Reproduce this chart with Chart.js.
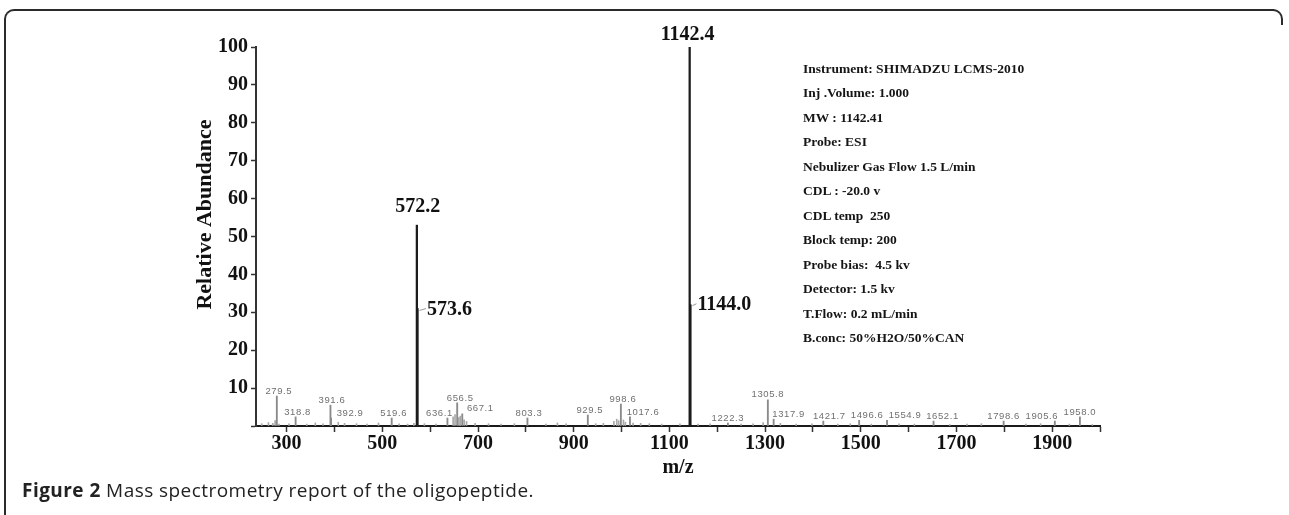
<!DOCTYPE html>
<html><head><meta charset="utf-8">
<script src="https://cdn.jsdelivr.net/npm/chart.js@4.4.1/dist/chart.umd.min.js"></script>
<style>
html,body{margin:0;padding:0;background:#fff;}
#wrap{position:relative;width:1289px;height:515px;overflow:hidden;background:#fff;}
#c{position:absolute;left:0;top:0;}
.frame{position:absolute;left:4px;top:9px;width:1268px;height:520px;border-top:2px solid #2b2b2b;border-left:2px solid #2b2b2b;border-top-left-radius:10px;}
.corner{position:absolute;left:1270px;top:9px;width:11px;height:14px;border-top:2px solid #2b2b2b;border-right:2px solid #2b2b2b;border-top-right-radius:10px;}
#info{position:absolute;left:803px;top:56.5px;font-family:"Liberation Serif";font-weight:bold;font-size:13.5px;color:#151515;white-space:pre;line-height:24.5px;}
#caption{position:absolute;left:22px;top:477px;font-family:"Open Sans";font-size:19px;letter-spacing:0.45px;color:#222;white-space:pre;}
#caption b{font-weight:bold;}
</style></head>
<body>
<div id="wrap">
<canvas id="c" width="1289" height="515"></canvas>
<div class="frame"></div><div class="corner"></div>
<div id="info"></div>
<div id="caption"><b>Figure 2</b> Mass spectrometry report of the oligopeptide.</div>
</div>
<script>
// ---- data ----
const majorMz     = [572.2, 573.6, 1142.4, 1144.0];
const majorHeight = [53, 31, 100, 32];
const majorLabel  = ['572.2', '573.6', '1142.4', '1144.0'];

const minorMz     = [279.5, 318.8, 391.6, 392.9, 519.6, 636.1, 656.5, 667.1, 803.3, 929.5, 998.6, 1017.6,
                     1222.3, 1305.8, 1317.9, 1421.7, 1496.6, 1554.9, 1652.1, 1798.6, 1905.6, 1958.0];
const minorHeight = [7.9, 2.4, 5.5, 2.1, 2.1, 2.1, 6.1, 3.2, 2.1, 2.9, 5.8, 2.4,
                     0.8, 6.9, 1.8, 1.3, 1.5, 1.5, 1.3, 1.3, 1.3, 2.4];
const minorLabel  = ['279.5','318.8','391.6','392.9','519.6','636.1','656.5','667.1','803.3','929.5','998.6','1017.6',
                     '1222.3','1305.8','1317.9','1421.7','1496.6','1554.9','1652.1','1798.6','1905.6','1958.0'];

const noiseMz     = [248, 262, 271, 276, 284, 305, 342, 360, 376, 408, 421, 446, 468, 492, 535, 553, 566,
                     588, 612, 648, 652, 660, 663, 671, 676, 694, 722, 748, 776, 842, 866, 884, 946, 962,
                     984, 990, 994, 1004, 1008, 1024, 1040, 1058, 1084, 1122, 1160, 1185, 1250, 1275, 1296,
                     1332, 1365, 1398, 1452, 1478, 1522, 1580, 1612, 1686, 1722, 1752, 1845, 1876, 1936, 1984];
const noiseHeight = [0.6, 0.9, 0.7, 1.4, 0.5, 0.6, 0.5, 0.8, 0.6, 1.0, 0.7, 0.6, 0.5, 0.8, 0.6, 0.5, 0.7,
                     0.6, 0.5, 2.4, 3.0, 2.2, 2.6, 1.6, 1.2, 0.7, 0.6, 0.5, 0.6, 0.5, 0.8, 0.6, 0.6, 0.7,
                     1.2, 1.8, 1.4, 1.6, 1.0, 0.8, 0.7, 0.6, 0.5, 0.6, 0.5, 0.6, 0.5, 0.6, 0.9,
                     0.7, 0.5, 0.6, 0.5, 0.6, 0.5, 0.6, 0.5, 0.4, 0.5, 0.6, 0.5, 0.6, 0.5, 0.4];

const xTickLabels = [300, 500, 700, 900, 1100, 1300, 1500, 1700, 1900];
const yTickLabels = [10, 20, 30, 40, 50, 60, 70, 80, 90, 100];
const yTitle = 'Relative Abundance';
const xTitle = 'm/z';

const infoLines = ['Instrument: SHIMADZU LCMS-2010', 'Inj .Volume: 1.000', 'MW : 1142.41', 'Probe: ESI',
  'Nebulizer Gas Flow 1.5 L/min', 'CDL : -20.0 v', 'CDL temp  250', 'Block temp: 200',
  'Probe bias:  4.5 kv', 'Detector: 1.5 kv', 'T.Flow: 0.2 mL/min', 'B.conc: 50%H2O/50%CAN'];

document.getElementById('info').innerHTML = infoLines.map(t => '<div>' + t + '</div>').join('');

// ---- label layout (pixels) ----
const majorLayout = [
  {dx: 1, dy: -18, align: 'center'},
  {dx: 9.5, dy: 1, align: 'left', dash: true},
  {dx: -2, dy: -12, align: 'center'},
  {dx: 7, dy: 0, align: 'left', dash: true}
];
const minorDx = [2, 2, 1.5, 19, 2, -8, 3, 18, 1.5, 2, 2, 13, 0, 0, 15, 6, 8, 18, 9, 0, -13, 0];

const toXY = (xs, ys) => xs.map((m, i) => ({x: m, y: ys[i]}));

const labelPlugin = {
  id: 'peakLabels',
  afterDatasetsDraw(chart) {
    const ctx = chart.ctx;
    const xs = chart.scales.x, ys = chart.scales.y;
    ctx.save();
    // y-axis title (placed like the reference, slightly above the axis centre)
    ctx.fillStyle = '#111';
    ctx.font = 'bold 22px "Liberation Serif"';
    ctx.textAlign = 'center';
    ctx.textBaseline = 'middle';
    ctx.save();
    ctx.translate(205, (ys.top + ys.bottom) / 2 - 22);
    ctx.rotate(-Math.PI / 2);
    ctx.fillText(yTitle, 0, 0);
    ctx.restore();
    // major labels
    ctx.font = 'bold 20px "Liberation Serif"';
    majorMz.forEach((m, i) => {
      const L = majorLayout[i];
      const px = xs.getPixelForValue(m), py = ys.getPixelForValue(majorHeight[i]);
      ctx.textAlign = L.align;
      ctx.fillText(majorLabel[i], px + L.dx, py + L.dy);
      if (L.dash) {
        ctx.strokeStyle = '#999'; ctx.lineWidth = 1;
        ctx.beginPath(); ctx.moveTo(px + 2, py + L.dy + 1); ctx.lineTo(px + L.dx - 1, py + L.dy - 1); ctx.stroke();
      }
    });
    // minor labels
    ctx.fillStyle = '#707070';
    ctx.font = '9.5px "Liberation Sans"';
    ctx.textAlign = 'center';
    try { ctx.letterSpacing = '0.6px'; } catch (e) {}
    minorMz.forEach((m, i) => {
      const px = xs.getPixelForValue(m), py = ys.getPixelForValue(minorHeight[i]);
      ctx.fillText(minorLabel[i], px + minorDx[i], py - 5);
    });
    ctx.restore();
  }
};

const serifBold = (size) => ({family: 'Liberation Serif', size: size, weight: 'bold'});

new Chart(document.getElementById('c'), {
  type: 'bar',
  data: {
    datasets: [
      {data: toXY(noiseMz, noiseHeight), backgroundColor: '#a8a8a8', barThickness: 1, order: 3},
      {data: toXY(minorMz, minorHeight), backgroundColor: '#8a8a8a', barThickness: 1.2, order: 2},
      {data: toXY(majorMz, majorHeight), backgroundColor: '#1c1c1c', barThickness: 1.6, order: 1}
    ]
  },
  options: {
    responsive: false,
    animation: false,
    events: [],
    datasets: {bar: {grouped: false, borderWidth: 0}},
    layout: {padding: {left: 193, right: 189, top: 47, bottom: 35}},
    plugins: {legend: {display: false}, tooltip: {enabled: false}},
    scales: {
      x: {
        type: 'linear', min: 236, max: 2000, offset: false,
        ticks: {
          autoSkip: false, maxRotation: 0, padding: 0,
          color: '#111', font: serifBold(20),
          callback: (v) => xTickLabels.includes(v) ? String(v) : ''
        },
        afterBuildTicks: (s) => {
          const t = [];
          for (let v = Math.ceil(s.min / 100) * 100; v <= s.max; v += 100) t.push({value: v});
          s.ticks = t;
        },
        grid: {drawOnChartArea: false, drawTicks: true, offset: false, tickLength: 6, tickColor: '#333', tickWidth: 1.5},
        border: {display: true, color: '#1a1a1a', width: 2},
        title: {display: true, text: xTitle, color: '#111', font: serifBold(20), padding: 0},
        afterFit: (s) => { s.height = 54; }
      },
      y: {
        min: 0, max: 100,
        ticks: {
          stepSize: 10, padding: 3, color: '#111', font: serifBold(20),
          callback: (v) => yTickLabels.includes(v) ? String(v) : ''
        },
        grid: {drawOnChartArea: false, drawTicks: true, tickLength: 5, tickColor: '#333', tickWidth: 1.5},
        border: {display: true, color: '#333', width: 2},
        title: {display: false},
        afterFit: (s) => { s.width = 63; }
      }
    }
  },
  plugins: [labelPlugin]
});
</script>
</body></html>
